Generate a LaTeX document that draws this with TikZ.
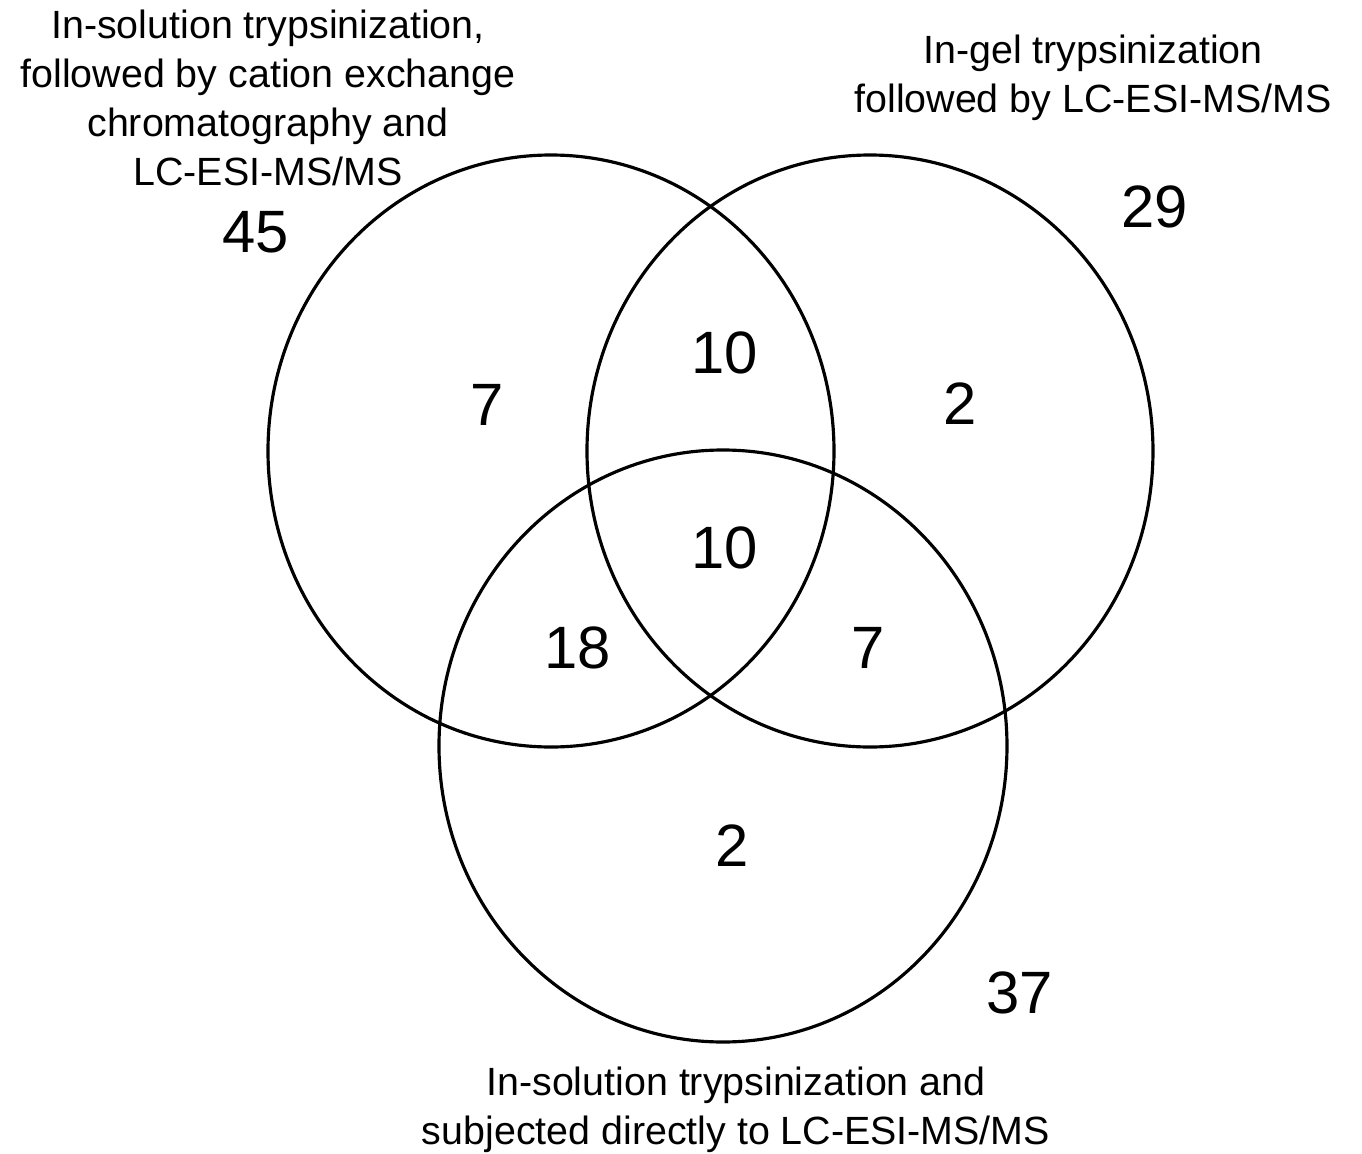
\documentclass[tikz,border=0pt]{standalone}
\usepackage{fontspec}
\setmainfont{Liberation Sans}
\usetikzlibrary{positioning}

\begin{document}
\begin{tikzpicture}[x=0.01cm,y=-0.01cm,
    set/.style={line width=0.9pt},
    num/.style={font=\fontsize{17}{20}\selectfont,inner sep=0pt},
    lab/.style={font=\fontsize{11.2}{13.9}\selectfont,align=center,inner sep=0pt}]
  \useasboundingbox (0,0) rectangle (1362,1154);
  % centres of the three sets
  \coordinate (a) at (551,451);
  \coordinate (b) at (870,451);
  \coordinate (c) at (723,746);
  \draw[set] (a) ellipse [x radius=283,y radius=296];
  \draw[set] (b) ellipse [x radius=283,y radius=296];
  \draw[set] (c) ellipse [x radius=284,y radius=296];
  % set labels
  \node[lab] (la) at (268,98) {In-solution trypsinization,\\followed by cation exchange\\chromatography and\\LC-ESI-MS/MS};
  \node[lab] (lb) at (1093,78) {In-gel trypsinization\\followed by LC-ESI-MS/MS};
  \node[lab] (lc) at (736,1110) {In-solution trypsinization and\\subjected directly to LC-ESI-MS/MS};
  % totals
  \node[num] (ta) at (256,232) {45};
  \node[num] (tb) at (1155,207) {29};
  \node[num] (tc) at (1020,993) {37};
  % region counts
  \node[num] (na) at (487,405) {7};
  \node[num] (nab) at (725,353) {10};
  \node[num] (nb) at (960,404) {2};
  \node[num] (nabc) at (725,548) {10};
  \node[num] (nac) at (578,648) {18};
  \node[num] (nbc) at (868,648) {7};
  \node[num] (nc) at (732,846) {2};
\end{tikzpicture}
\end{document}
